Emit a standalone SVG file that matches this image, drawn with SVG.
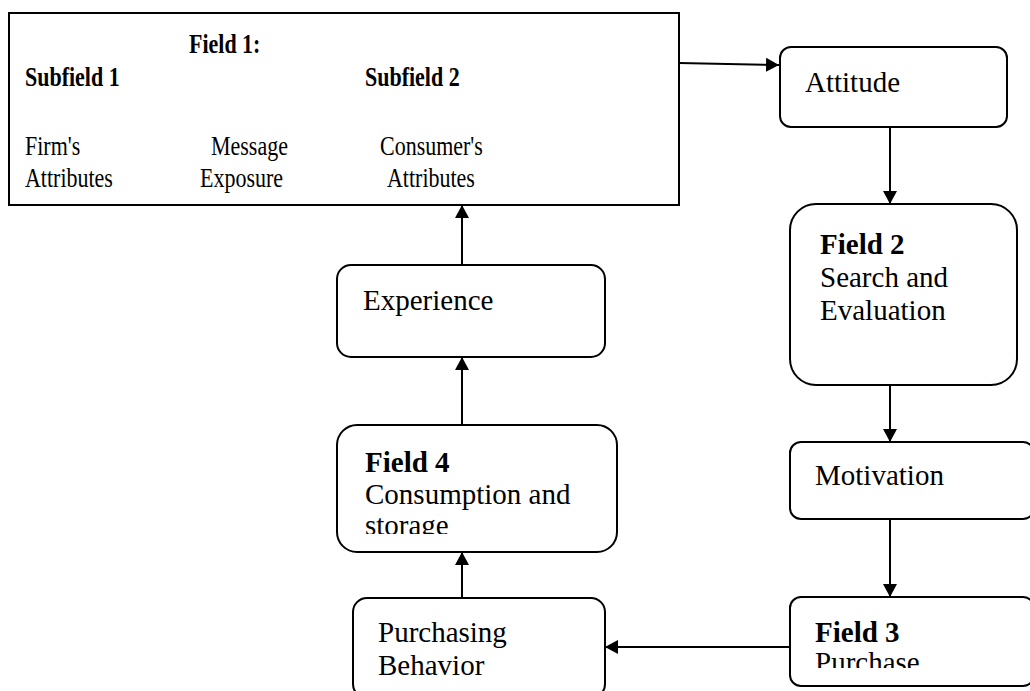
<svg xmlns="http://www.w3.org/2000/svg" width="1030" height="691" viewBox="0 0 1030 691">
<defs>
<style>
.box{fill:#fff;stroke:#000;stroke-width:2}
.t{font-family:"Liberation Serif","Times New Roman",serif;font-size:29px;fill:#000}
.f1{font-family:"Liberation Serif","Times New Roman",serif;font-size:22px;fill:#000}
.b{font-weight:bold}
.c{stroke:#000;stroke-width:2;fill:none}
</style>
<marker id="ah" viewBox="0 0 13 14" refX="13" refY="7" markerWidth="13" markerHeight="14" markerUnits="userSpaceOnUse" orient="auto">
<path d="M0,0 L13,7 L0,14 Z" fill="#000"/>
</marker>
<clipPath id="clip3"><rect x="790" y="597" width="240" height="71"/></clipPath>
<clipPath id="clip4"><rect x="337" y="425" width="280" height="109"/></clipPath>
</defs>
<rect width="1030" height="691" fill="#fff"/>

<g id="connectors">
<line class="c" x1="126" y1="162" x2="183" y2="162" marker-end="url(#ah)"/>
<line class="c" x1="306" y1="162" x2="364" y2="162" marker-end="url(#ah)"/>
<line class="c" x1="679" y1="63" x2="779" y2="65" marker-end="url(#ah)"/>
<line class="c" x1="890" y1="127" x2="890" y2="204" marker-end="url(#ah)"/>
<line class="c" x1="890" y1="385" x2="890" y2="442" marker-end="url(#ah)"/>
<line class="c" x1="890" y1="519" x2="890" y2="597" marker-end="url(#ah)"/>
<line class="c" x1="790" y1="647" x2="605" y2="647" marker-end="url(#ah)"/>
<line class="c" x1="462" y1="598" x2="462" y2="552" marker-end="url(#ah)"/>
<line class="c" x1="462" y1="425" x2="462" y2="357" marker-end="url(#ah)"/>
<line class="c" x1="462" y1="265" x2="462" y2="205" marker-end="url(#ah)"/>
</g>

<g id="field1">
<rect class="box" x="9" y="13" width="670" height="192"/>
<g transform="scale(1,1.2)">
<text class="f1 b" x="189" y="44">Field 1:</text>
<text class="f1 b" x="25" y="72">Subfield 1</text>
<text class="f1 b" x="365" y="72">Subfield 2</text>
<text class="f1" x="25" y="129">Firm's</text>
<text class="f1" x="25" y="155.8">Attributes</text>
<text class="f1" x="211" y="129">Message</text>
<text class="f1" x="200" y="155.8">Exposure</text>
<text class="f1" x="380" y="129">Consumer's</text>
<text class="f1" x="387" y="155.8">Attributes</text>
</g>
</g>

<g id="attitude">
<rect class="box" x="780" y="47" width="227" height="80" rx="11"/>
<text class="t" x="805" y="92">Attitude</text>
</g>

<g id="field2">
<rect class="box" x="790" y="204" width="227" height="181" rx="26"/>
<text class="t b" x="820" y="254">Field 2</text>
<text class="t" x="820" y="287">Search and</text>
<text class="t" x="820" y="320">Evaluation</text>
</g>

<g id="motivation">
<rect class="box" x="790" y="442" width="244" height="77" rx="11"/>
<text class="t" x="815" y="485">Motivation</text>
</g>

<g id="field3">
<rect class="box" x="790" y="597" width="244" height="89" rx="11"/>
<text class="t b" x="815" y="642">Field 3</text>
<text class="t" x="815" y="672" clip-path="url(#clip3)">Purchase</text>
</g>

<g id="purchasing">
<rect class="box" x="353" y="598" width="252" height="100" rx="14"/>
<text class="t" x="378" y="642">Purchasing</text>
<text class="t" x="378" y="675">Behavior</text>
</g>

<g id="field4">
<rect class="box" x="337" y="425" width="280" height="127" rx="20"/>
<text class="t b" x="365" y="472">Field 4</text>
<text class="t" x="365" y="504">Consumption and</text>
<text class="t" x="365" y="535" clip-path="url(#clip4)">storage</text>
</g>

<g id="experience">
<rect class="box" x="337" y="265" width="268" height="92" rx="14"/>
<text class="t" x="363" y="310">Experience</text>
</g>
</svg>
